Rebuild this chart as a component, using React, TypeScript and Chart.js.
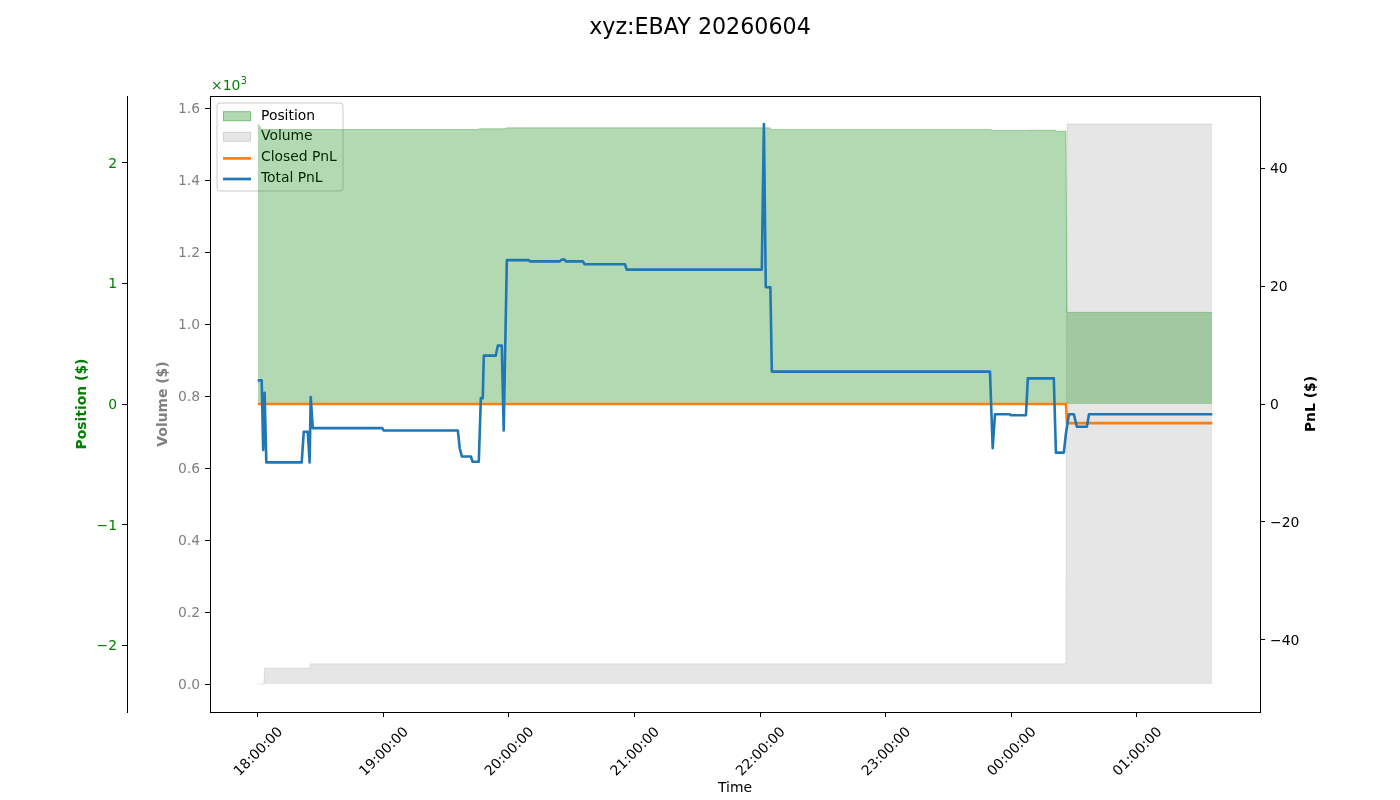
import React, { useEffect, useRef } from "react";
import { Chart, registerables } from "chart.js";

Chart.register(...registerables);

const TITLE = "xyz:EBAY 20260604";

// time axis: minutes after 18:00:00
const xTickMinutes = [0, 60, 120, 180, 240, 300, 360, 420];
const xTickLabels = ["18:00:00", "19:00:00", "20:00:00", "21:00:00", "22:00:00", "23:00:00", "00:00:00", "01:00:00"];
const positionTicks = [-2000, -1000, 0, 1000, 2000];
const volumeTicks = [0, 200, 400, 600, 800, 1000, 1200, 1400, 1600];
const pnlTicks = [-40, -20, 0, 20, 40];

const positionMinutes = [0, 1.9, 105.1, 106.1, 118.0, 119.0, 244.6, 245.6, 350.2, 351.2, 367.4, 368.4, 380.8, 381.8, 386.1, 386.6, 456];
const positionValues = [2320, 2274, 2274, 2280, 2280, 2288, 2288, 2275, 2275, 2266, 2266, 2268, 2268, 2260, 2260, 759, 759];

const volumeMinutes = [0, 2.9, 3.3, 24.8, 25.3, 386.1, 386.6, 456];
const volumeValues = [0, 0, 44, 44, 56, 56, 1556, 1556];

const closedPnlMinutes = [0, 386.1, 386.6, 456];
const closedPnlValues = [0, 0, -3.25, -3.25];

const totalPnlMinutes = [0, 1.9, 2.6, 3.3, 4.1, 21.0, 22.0, 23.9, 24.8, 25.3, 26.3, 59.5, 60.2, 95.6, 96.5, 97.5, 101.8, 102.7, 105.6, 106.6, 107.5, 108.0, 113.7, 114.7, 116.6, 117.5, 119.0, 129.5, 130.0, 144.3, 145.3, 146.7, 147.2, 155.3, 156.2, 175.4, 176.3, 240.8, 241.8, 242.7, 244.9, 245.6, 349.8, 351.1, 352.2, 359.3, 359.8, 367.0, 367.9, 380.3, 381.3, 385.1, 386.1, 387.5, 389.9, 391.3, 396.1, 397.1, 456];
const totalPnlValues = [4.0, 4.0, -7.8, 1.9, -9.9, -9.9, -4.7, -4.7, -9.9, 1.2, -4.1, -4.1, -4.5, -4.5, -7.5, -8.9, -8.9, -9.8, -9.8, 1.0, 1.0, 8.2, 8.2, 9.9, 9.9, -4.5, 24.4, 24.4, 24.2, 24.2, 24.5, 24.5, 24.2, 24.2, 23.7, 23.7, 22.8, 22.8, 47.5, 19.8, 19.8, 5.5, 5.5, -7.5, -1.75, -1.75, -1.9, -1.9, 4.35, 4.35, -8.25, -8.25, -5.0, -1.75, -1.75, -3.85, -3.85, -1.75, -1.75];

const FONT = "DejaVu Sans";
const TICK_SIZE = 13.9;

const GREEN_FILL = "rgba(0,128,0,0.3)";
const GRAY_FILL = "rgba(128,128,128,0.2)";
const ORANGE = "#ff7f0e";
const BLUE = "#1f77b4";

const zip = (xs: number[], ys: number[]) => xs.map((x, i) => ({ x, y: ys[i] }));
const fmtSigned = (v: number) => (v < 0 ? "\u2212" + String(Math.abs(v)) : String(v));

const decorPlugin = {
  id: "decor",
  beforeDatasetsDraw(chart: any) {
    const ctx = chart.ctx as CanvasRenderingContext2D;
    const ca = chart.chartArea;
    const lx = ca.left + 7;
    const ly = ca.top + 7;
    const w = 126;
    const h = 88;
    ctx.save();
    ctx.beginPath();
    const r = 3;
    ctx.moveTo(lx + r, ly);
    ctx.arcTo(lx + w, ly, lx + w, ly + h, r);
    ctx.arcTo(lx + w, ly + h, lx, ly + h, r);
    ctx.arcTo(lx, ly + h, lx, ly, r);
    ctx.arcTo(lx, ly, lx + w, ly, r);
    ctx.closePath();
    ctx.fillStyle = "rgba(255,255,255,0.8)";
    ctx.fill();
    ctx.strokeStyle = "#cccccc";
    ctx.lineWidth = 1;
    ctx.stroke();
    const items = [
      { label: "Position", kind: "patch", color: GREEN_FILL },
      { label: "Volume", kind: "patch", color: GRAY_FILL },
      { label: "Closed PnL", kind: "line", color: ORANGE },
      { label: "Total PnL", kind: "line", color: BLUE },
    ];
    ctx.font = `${TICK_SIZE}px '${FONT}'`;
    ctx.textBaseline = "middle";
    ctx.textAlign = "left";
    items.forEach((it, i) => {
      const cy = ly + 13.2 + i * 20.6;
      if (it.kind === "patch") {
        ctx.fillStyle = it.color;
        ctx.fillRect(lx + 6, cy - 5, 28, 10);
        ctx.strokeStyle = it.color;
        ctx.lineWidth = 1;
        ctx.strokeRect(lx + 6.5, cy - 4.5, 27, 9);
      } else {
        ctx.strokeStyle = it.color;
        ctx.lineWidth = 2.7;
        ctx.beginPath();
        ctx.moveTo(lx + 6, cy + 1);
        ctx.lineTo(lx + 34, cy + 1);
        ctx.stroke();
      }
      ctx.fillStyle = "#000";
      ctx.fillText(it.label, lx + 44, cy);
    });
    ctx.restore();
  },
  afterDraw(chart: any) {
    const ctx = chart.ctx as CanvasRenderingContext2D;
    const ca = chart.chartArea;
    ctx.save();
    // frame
    ctx.strokeStyle = "#000";
    ctx.lineWidth = 1;
    ctx.strokeRect(Math.round(ca.left) + 0.5, Math.round(ca.top) + 0.5, Math.round(ca.right - ca.left), Math.round(ca.bottom - ca.top));
    // suptitle
    ctx.fillStyle = "#000";
    ctx.font = `22.2px '${FONT}'`;
    ctx.textAlign = "center";
    ctx.textBaseline = "middle";
    ctx.fillText(TITLE, 700, 28);
    // x title
    ctx.font = `${TICK_SIZE}px '${FONT}'`;
    ctx.fillText("Time", (ca.left + ca.right) / 2, 788);
    const midY = (ca.top + ca.bottom) / 2;
    const vText = (text: string, x: number, color: string) => {
      ctx.save();
      ctx.translate(x, midY);
      ctx.rotate(-Math.PI / 2);
      ctx.fillStyle = color;
      ctx.font = `bold ${TICK_SIZE}px '${FONT}'`;
      ctx.textAlign = "center";
      ctx.textBaseline = "middle";
      ctx.fillText(text, 0, 0);
      ctx.restore();
    };
    vText("Position ($)", 82, "green");
    vText("Volume ($)", 163, "gray");
    vText("PnL ($)", 1311, "#000");
    // offset text
    ctx.fillStyle = "green";
    ctx.textAlign = "left";
    ctx.textBaseline = "alphabetic";
    ctx.font = `${TICK_SIZE}px '${FONT}'`;
    ctx.fillText("\u00d710", ca.left + 1, 90);
    const w10 = ctx.measureText("\u00d710").width;
    ctx.font = `${9.7}px '${FONT}'`;
    ctx.fillText("3", ca.left + 1 + w10 + 0.5, 84);
    ctx.restore();
  },
};

export default function App() {
  const ref = useRef<HTMLCanvasElement | null>(null);

  useEffect(() => {
    if (!ref.current) return;
    const dataEnd = Math.max(...totalPnlMinutes, ...positionMinutes, ...volumeMinutes);
    const dataStart = Math.min(...totalPnlMinutes, ...positionMinutes, ...volumeMinutes);
    const span = dataEnd - dataStart;
    const posLim = Math.max(...positionValues.map(Math.abs)) * 1.1;
    const pnlLim = Math.max(...totalPnlValues.map(Math.abs), ...closedPnlValues.map(Math.abs)) * 1.1;
    const volMax = Math.max(...volumeValues);
    const volMin = Math.min(...volumeValues);
    const volSpan = volMax - volMin;

    const tickFont = { family: FONT, size: TICK_SIZE };
    const gridOpts = { drawOnChartArea: false, drawTicks: true, tickLength: 5, color: "#000", lineWidth: 1 };
    const borderOpts = { display: true, color: "#000", width: 1 };

    const chart = new Chart(ref.current, {
      type: "line",
      data: {
        datasets: [
          {
            label: "Total PnL",
            data: zip(totalPnlMinutes, totalPnlValues),
            yAxisID: "yPnl",
            xAxisID: "x",
            borderColor: BLUE,
            borderWidth: 2.6,
            pointRadius: 0,
            fill: false,
            tension: 0,
            borderJoinStyle: "round",
            order: 0,
          },
          {
            label: "Closed PnL",
            data: zip(closedPnlMinutes, closedPnlValues),
            yAxisID: "yPnl",
            xAxisID: "x",
            borderColor: ORANGE,
            borderWidth: 2.6,
            pointRadius: 0,
            fill: false,
            tension: 0,
            order: 1,
          },
          {
            label: "Position",
            data: zip(positionMinutes, positionValues),
            yAxisID: "yPos",
            xAxisID: "x",
            borderColor: GREEN_FILL,
            backgroundColor: GREEN_FILL,
            borderWidth: 1,
            pointRadius: 0,
            fill: "origin",
            tension: 0,
            order: 2,
          },
          {
            label: "Volume",
            data: zip(volumeMinutes, volumeValues),
            yAxisID: "yVol",
            xAxisID: "x",
            borderColor: GRAY_FILL,
            backgroundColor: GRAY_FILL,
            borderWidth: 1,
            pointRadius: 0,
            fill: "origin",
            tension: 0,
            order: 3,
          },
        ],
      },
      options: {
        responsive: false,
        animation: false,
        devicePixelRatio: 1,
        layout: { padding: { left: 0, right: 0, top: 96, bottom: 0 } },
        plugins: {
          legend: { display: false },
          title: { display: false },
          tooltip: { enabled: false },
        },
        events: [],
        scales: {
          x: {
            type: "linear",
            position: "bottom",
            min: dataStart - 0.05 * span,
            max: dataEnd + 0.05 * span,
            afterBuildTicks: (s: any) => {
              s.ticks = xTickMinutes.map((v) => ({ value: v }));
            },
            afterFit: (s: any) => {
              s.height = 88;
            },
            ticks: {
              autoSkip: false,
              minRotation: 45,
              maxRotation: 45,
              labelOffset: 23,
              padding: 7,
              color: "#000",
              font: tickFont,
              callback: (_v: any, i: number) => xTickLabels[i],
            },
            grid: gridOpts,
            border: borderOpts,
          },
          yPos: {
            type: "linear",
            position: "left",
            weight: 2,
            min: -posLim,
            max: posLim,
            afterBuildTicks: (s: any) => {
              s.ticks = positionTicks.map((v) => ({ value: v }));
            },
            afterFit: (s: any) => {
              s.width = 127;
            },
            ticks: {
              color: "green",
              padding: 5,
              labelOffset: 1.5,
              font: tickFont,
              callback: (v: any) => fmtSigned(Number(v) / 1000),
            },
            grid: gridOpts,
            border: borderOpts,
          },
          yVol: {
            type: "linear",
            position: "left",
            weight: 1,
            min: volMin - 0.05 * volSpan,
            max: volMax + 0.05 * volSpan,
            afterBuildTicks: (s: any) => {
              s.ticks = volumeTicks.map((v) => ({ value: v }));
            },
            afterFit: (s: any) => {
              s.width = 83;
            },
            ticks: {
              color: "gray",
              padding: 5,
              labelOffset: 1.5,
              font: tickFont,
              callback: (v: any) => (Number(v) / 1000).toFixed(1),
            },
            grid: gridOpts,
            border: borderOpts,
          },
          yPnl: {
            type: "linear",
            position: "right",
            min: -pnlLim,
            max: pnlLim,
            afterBuildTicks: (s: any) => {
              s.ticks = pnlTicks.map((v) => ({ value: v }));
            },
            afterFit: (s: any) => {
              s.width = 140;
            },
            ticks: {
              color: "#000",
              padding: 5,
              labelOffset: 1.5,
              font: tickFont,
              callback: (v: any) => fmtSigned(Number(v)),
            },
            grid: gridOpts,
            border: borderOpts,
          },
        },
      } as any,
      plugins: [decorPlugin],
    });
    return () => chart.destroy();
  }, []);

  return (
    <div style={{ position: "fixed", left: 0, top: 0, width: 1400, height: 800, background: "#fff" }}>
      <canvas ref={ref} width={1400} height={800} style={{ width: 1400, height: 800, display: "block" }} />
    </div>
  );
}
